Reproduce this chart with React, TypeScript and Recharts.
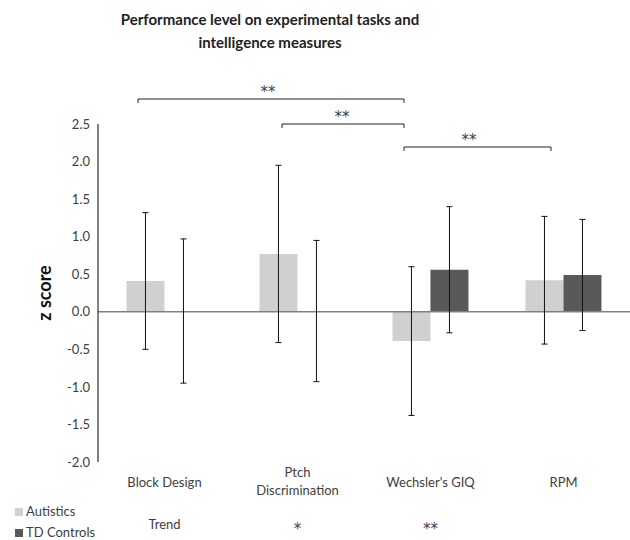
import { BarChart, Bar, XAxis, YAxis, ErrorBar, ReferenceLine } from 'recharts'

// Tasks on the x axis
const categories = ['Block Design', 'Ptch Discrimination', "Wechsler's GIQ", 'RPM']
// Mean z scores and symmetric error (SD)
const autistics = [0.41, 0.77, -0.39, 0.42]
const autisticsErr = [0.91, 1.18, 0.99, 0.85]
const tdControls = [0.01, 0.01, 0.56, 0.49]
const tdControlsErr = [0.96, 0.94, 0.84, 0.74]
// Group difference marks printed under each task
const groupMarks = ['Trend', '*', '**', '']
const yTicks = [-2, -1.5, -1, -0.5, 0, 0.5, 1, 1.5, 2, 2.5]

const LIGHT = '#d0d0d0'
const DARK = '#595959'
const FONT = 'Lato, "Open Sans", sans-serif'
const STAR_FONT = '"DejaVu Sans", sans-serif'

const data = categories.map((name, i) => ({
  name,
  autistics: autistics[i],
  autisticsErr: autisticsErr[i],
  td: tdControls[i],
  tdErr: tdControlsErr[i],
}))

function TaskTick(props: any) {
  const { x, y, payload, index } = props
  const words: string[] = payload.value === 'Ptch Discrimination' ? ['Ptch', 'Discrimination'] : [payload.value]
  const top = words.length > 1 ? 7 : 17
  const mark = groupMarks[index]
  const isWord = mark === 'Trend'
  return (
    <g>
      {words.map((w, i) => (
        <text key={i} x={x} y={y + top + i * 18} textAnchor="middle" fontSize={13} fill="#404040" fontFamily={FONT}>
          {w}
        </text>
      ))}
      <text
        x={x}
        y={y + (isWord ? 59 : 64)}
        textAnchor="middle"
        fontSize={isWord ? 13 : 15}
        fill="#404040"
        fontFamily={isWord ? FONT : STAR_FONT}
      >
        {mark}
      </text>
    </g>
  )
}

// Significance brackets above the bars
function Brackets() {
  const items = [
    { x1: 138, x2: 404, y: 99, label: 268 },
    { x1: 282, x2: 404, y: 124, label: 342 },
    { x1: 404, x2: 551, y: 147, label: 469 },
  ]
  return (
    <svg width={630} height={540} style={{ position: 'absolute', left: 0, top: 0, pointerEvents: 'none' }}>
      {items.map((b, i) => (
        <g key={i}>
          <path d={`M${b.x1},${b.y + 4} V${b.y} H${b.x2} V${b.y + 4}`} fill="none" stroke="#222" strokeWidth={1} />
          <text x={b.label} y={b.y - 2} textAnchor="middle" fontSize={15} fill="#404040" fontFamily={STAR_FONT}>
            **
          </text>
        </g>
      ))}
    </svg>
  )
}

export default function App() {
  return (
    <div style={{ position: 'absolute', left: 0, top: 0, width: 630, height: 540, background: '#fff', fontFamily: FONT }}>
      <div style={{ position: 'absolute', left: 70, top: 8, width: 400, textAlign: 'center', fontWeight: 700, fontSize: 15, lineHeight: '23px', color: '#222' }}>
        Performance level on experimental tasks and
        <br />
        intelligence measures
      </div>
      <BarChart
        width={630}
        height={540}
        data={data}
        margin={{ top: 124, right: 0, left: 0, bottom: 0 }}
        barCategoryGap="21.4%"
        barGap={0}
      >
        <XAxis dataKey="name" axisLine={false} tickLine={false} height={78} tick={<TaskTick />} interval={0} />
        <YAxis
          width={98}
          domain={[-2, 2.5]}
          ticks={yTicks}
          tickFormatter={(v: number) => v.toFixed(1)}
          axisLine={{ stroke: '#000' }}
          tickLine={false}
          tick={{ fontSize: 13, fill: '#404040', fontFamily: FONT }}
          label={{ value: 'z score', angle: -90, position: 'insideLeft', offset: 45, style: { fontSize: 18, fontWeight: 700, fill: '#111', fontFamily: FONT, textAnchor: 'middle' } }}
        />
        <ReferenceLine y={0} stroke="#808080" strokeWidth={1.5} />
        <Bar dataKey="autistics" fill={LIGHT} isAnimationActive={false}>
          <ErrorBar dataKey="autisticsErr" width={3} stroke="#111" strokeWidth={1} />
        </Bar>
        <Bar dataKey="td" fill={DARK} isAnimationActive={false}>
          <ErrorBar dataKey="tdErr" width={3} stroke="#111" strokeWidth={1} />
        </Bar>
      </BarChart>
      <Brackets />
      <div style={{ position: 'absolute', left: 15, top: 501, fontSize: 13, color: '#404040', lineHeight: '21px' }}>
        <div style={{ display: 'flex', alignItems: 'center' }}>
          <span style={{ width: 8, height: 8, background: LIGHT, marginRight: 3 }} />
          Autistics
        </div>
        <div style={{ display: 'flex', alignItems: 'center' }}>
          <span style={{ width: 8, height: 8, background: DARK, marginRight: 3 }} />
          TD Controls
        </div>
      </div>
    </div>
  )
}
